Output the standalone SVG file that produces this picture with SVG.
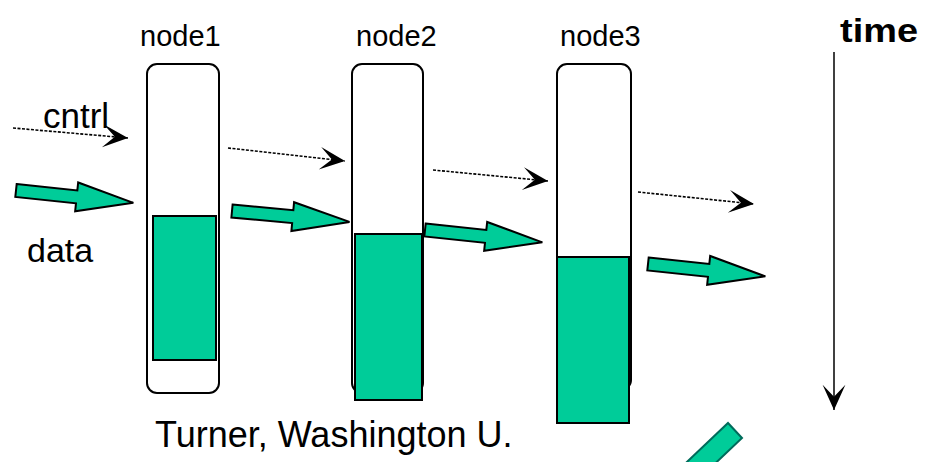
<svg xmlns="http://www.w3.org/2000/svg" width="932" height="462" viewBox="0 0 932 462">
<defs>
<style>
.lbl{font-family:"Liberation Sans",Arial,sans-serif;fill:#000}
.node{fill:#fff;stroke:#000;stroke-width:2}
.buf{fill:#00CC99;stroke:#000;stroke-width:2}
.data{fill:#00CC99;stroke:#000;stroke-width:2;stroke-linejoin:miter}
.ctl{fill:none;stroke:#000;stroke-width:1.6;stroke-dasharray:3 1.5}
</style>
<marker id="ah" markerUnits="userSpaceOnUse" markerWidth="30" markerHeight="30" viewBox="-23 -11 25 22" refX="0" refY="0" orient="auto">
<path d="M0,0 L-21,-9.5 L-11,0 L-21,9.5 Z" fill="#000"/>
</marker>
<polygon id="blk" points="0,-6.5 61,-6.5 61,-14.5 118,0 61,14.5 61,6.5 0,6.5"/>
</defs>
<rect width="932" height="462" fill="#fff"/>

<g id="node1">
<text class="lbl" x="140" y="46" font-size="29">node1</text>
<rect class="node" x="147" y="64" width="72" height="329" rx="10"/>
<rect class="buf" x="153" y="216" width="63" height="144"/>
</g>
<g id="node2">
<text class="lbl" x="356" y="46" font-size="29">node2</text>
<rect class="node" x="352" y="64" width="71" height="329" rx="10"/>
<rect class="buf" x="355" y="234" width="67" height="166"/>
</g>
<g id="node3">
<text class="lbl" x="560" y="46" font-size="29">node3</text>
<rect class="node" x="557" y="64" width="74" height="326" rx="10"/>
<rect class="buf" x="557" y="257" width="72" height="166"/>
</g>

<g id="labels">
<text class="lbl" x="43" y="128" font-size="35">cntrl</text>
<text class="lbl" x="27" y="262" font-size="34">data</text>
<text class="lbl" x="840" y="42" font-size="34" font-weight="bold" textLength="78" lengthAdjust="spacingAndGlyphs">time</text>
<text class="lbl" x="155" y="447" font-size="36">Turner, Washington U.</text>
</g>

<g id="connectors">
<line class="ctl" x1="13" y1="128" x2="128" y2="138" marker-end="url(#ah)"/>
<line class="ctl" x1="228" y1="148" x2="345" y2="161" marker-end="url(#ah)"/>
<line class="ctl" x1="433" y1="170" x2="548" y2="181" marker-end="url(#ah)"/>
<line class="ctl" x1="638" y1="192" x2="754" y2="204" marker-end="url(#ah)"/>
<use href="#blk" class="data" transform="translate(16,190.5) rotate(6)"/>
<use href="#blk" class="data" transform="translate(232,211) rotate(5.3)"/>
<use href="#blk" class="data" transform="translate(425,230) rotate(6)"/>
<use href="#blk" class="data" transform="translate(648,264) rotate(6)"/>
<line x1="834" y1="52" x2="834" y2="410" stroke="#000" stroke-width="1.5" marker-end="url(#ah)"/>
<polygon points="728,423 742,438 684,493 670,478" fill="#00CC99" stroke="#006b5b" stroke-width="2"/>
</g>
</svg>
